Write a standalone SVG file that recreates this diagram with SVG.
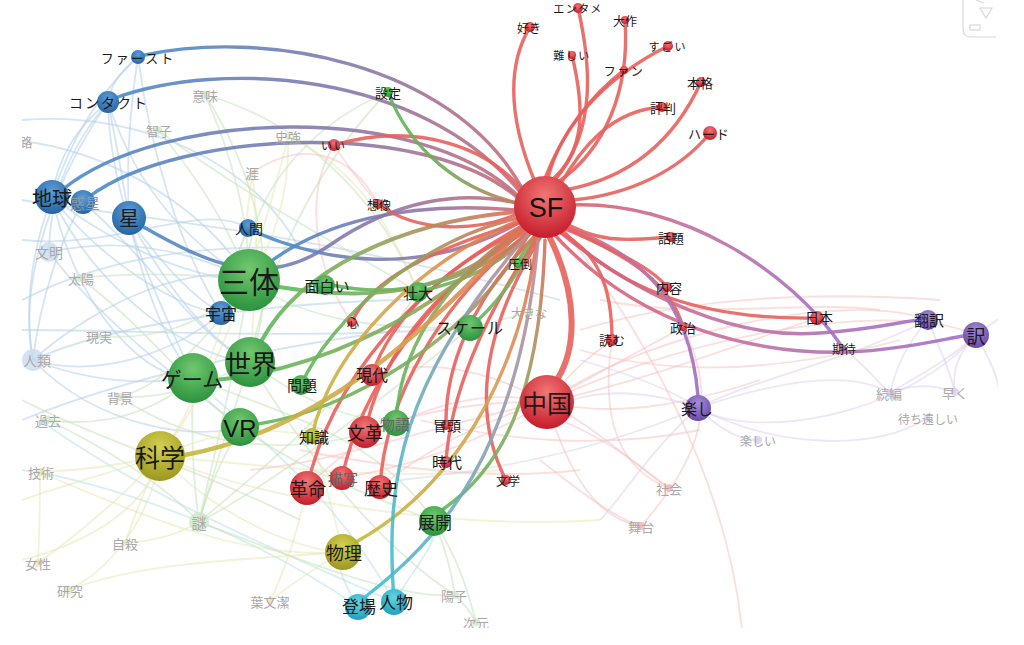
<svg xmlns="http://www.w3.org/2000/svg" width="1024" height="645" viewBox="0 0 1024 645">
<defs>
<style>
.lab{font-family:"Noto Sans CJK JP","Noto Sans CJK SC",sans-serif;fill:#1a1a1a;text-anchor:middle;dominant-baseline:central}
.lat{font-family:"Liberation Sans",Arial,sans-serif;fill:#111;text-anchor:middle;dominant-baseline:central}
.fl{font-family:"Noto Sans CJK JP","Noto Sans CJK SC",sans-serif;fill:#a8a8a8;text-anchor:middle;dominant-baseline:central;font-size:13px}
.gl{fill:#666}
#faint path{fill:none;stroke-width:1.8;opacity:.55}
.fb{stroke:#b3cfe9}.fg{stroke:#c6e2bc}.fo{stroke:#e6e7b4}.fr{stroke:#f7c2c2}.fp{stroke:#dcd2ee}.fc{stroke:#b9e1ea}
#edges path{fill:none;stroke-width:3.4;stroke-linecap:round;opacity:.9}
.r{stroke:#e8605c}
.nr{fill:url(#rR)}.ng{fill:url(#rG)}.nb{fill:url(#rB)}.no{fill:url(#rO)}.np{fill:url(#rP)}.nc{fill:url(#rC)}
.xb{fill:#c9dcef;opacity:.8}.xg{fill:#cfe6c8;opacity:.8}.xo{fill:#e6e6bc;opacity:.8}.xr{fill:#f3b3b3;opacity:.8}.xp{fill:#d8cef0;opacity:.8}
</style>
<radialGradient id="rR" cx="50%" cy="32%" r="68%"><stop offset="0" stop-color="#f27676"/><stop offset="1" stop-color="#c41c2a"/></radialGradient>
<radialGradient id="rG" cx="50%" cy="32%" r="68%"><stop offset="0" stop-color="#70c86e"/><stop offset="1" stop-color="#2c923e"/></radialGradient>
<radialGradient id="rB" cx="50%" cy="32%" r="68%"><stop offset="0" stop-color="#5c9cd6"/><stop offset="1" stop-color="#2464a4"/></radialGradient>
<radialGradient id="rO" cx="50%" cy="32%" r="68%"><stop offset="0" stop-color="#d4d052"/><stop offset="1" stop-color="#9c981e"/></radialGradient>
<radialGradient id="rP" cx="50%" cy="32%" r="68%"><stop offset="0" stop-color="#a68cd8"/><stop offset="1" stop-color="#6848a8"/></radialGradient>
<radialGradient id="rC" cx="50%" cy="32%" r="68%"><stop offset="0" stop-color="#66d4e2"/><stop offset="1" stop-color="#1ea2ba"/></radialGradient>
<linearGradient id="gBR" x1="0" y1="0" x2="1" y2="0"><stop offset="0" stop-color="#4a8ac8"/><stop offset=".6" stop-color="#8a78aa"/><stop offset="1" stop-color="#c86c78"/></linearGradient>
<linearGradient id="gGR" x1="0" y1="0" x2="1" y2="0"><stop offset="0" stop-color="#5cb85c"/><stop offset=".6" stop-color="#8aa860"/><stop offset="1" stop-color="#d0705a"/></linearGradient>
<linearGradient id="gGRd" x1="0" y1="0" x2="1" y2="1"><stop offset="0" stop-color="#5cb85c"/><stop offset=".6" stop-color="#72a858"/><stop offset="1" stop-color="#c08060"/></linearGradient>
<linearGradient id="gGRu" x1="0" y1="1" x2="1" y2="0"><stop offset="0" stop-color="#5cb85c"/><stop offset=".55" stop-color="#8aaa5c"/><stop offset="1" stop-color="#d8705a"/></linearGradient>
<linearGradient id="gORu" x1="0" y1="1" x2="1" y2="0"><stop offset="0" stop-color="#c4b83c"/><stop offset=".6" stop-color="#d8a050"/><stop offset="1" stop-color="#e07058"/></linearGradient>
<linearGradient id="gCRu" x1="0" y1="1" x2="1" y2="0"><stop offset="0" stop-color="#3cc0d0"/><stop offset=".6" stop-color="#8aa0b4"/><stop offset="1" stop-color="#c88890"/></linearGradient>
<linearGradient id="gRP" x1="0" y1="0" x2="1" y2="0"><stop offset="0" stop-color="#e0606a"/><stop offset=".45" stop-color="#c070a0"/><stop offset="1" stop-color="#a070c8"/></linearGradient>
<linearGradient id="gRPd" x1="0" y1="0" x2="1" y2="1"><stop offset="0" stop-color="#e0606a"/><stop offset=".5" stop-color="#b874b0"/><stop offset="1" stop-color="#9a6cc8"/></linearGradient>
<clipPath id="clip"><rect x="22" y="0" width="976" height="628"/></clipPath>
</defs>
<rect width="1024" height="645" fill="#ffffff"/>
<g clip-path="url(#clip)">
<g id="faint">
<path class="fb" d="M138,57 Q110,80 108,102"/>
<path class="fb" d="M138,57 Q125,140 129,218"/>
<path class="fb" d="M138,57 Q80,110 52,197"/>
<path class="fb" d="M138,57 C150,150 180,250 221,313"/>
<path class="fb" d="M108,102 Q120,160 129,218"/>
<path class="fb" d="M108,102 Q60,140 52,197"/>
<path class="fb" d="M108,102 Q50,170 49,252"/>
<path class="fb" d="M108,102 C40,200 20,300 33,360"/>
<path class="fb" d="M108,102 C110,200 150,280 193,378"/>
<path class="fb" d="M108,102 C140,200 200,250 249,280"/>
<path class="fb" d="M52,197 C120,250 200,280 249,280"/>
<path class="fb" d="M52,197 C100,300 200,360 250,362"/>
<path class="fb" d="M52,197 C80,320 150,380 193,378"/>
<path class="fb" d="M129,218 Q150,320 193,378"/>
<path class="fb" d="M129,218 Q190,330 250,362"/>
<path class="fb" d="M129,218 Q180,290 221,313"/>
<path class="fb" d="M49,252 Q150,230 249,280"/>
<path class="fb" d="M33,360 C100,300 200,260 249,280"/>
<path class="fb" d="M33,360 Q110,390 193,378"/>
<path class="fb" d="M33,360 C100,430 200,440 240,427"/>
<path class="fb" d="M52,197 Q20,280 33,360"/>
<path class="fb" d="M52,197 C100,260 180,310 221,313"/>
<path class="fb" d="M22,141 C100,150 200,200 249,280"/>
<path class="fb" d="M22,120 C150,110 260,170 300,250"/>
<path class="fb" d="M22,300 C100,260 200,240 330,250"/>
<path class="fb" d="M22,420 C120,380 250,350 400,330"/>
<path class="fb" d="M83,202 C150,260 200,340 250,362"/>
<path class="fb" d="M248,228 Q230,270 221,313"/>
<path class="fb" d="M221,313 C180,350 100,380 33,360"/>
<path class="fb" d="M49,252 C100,320 180,380 240,427"/>
<path class="fb" d="M33,360 C120,320 300,300 420,300"/>
<path class="fb" d="M22,200 C150,220 300,230 560,300"/>
<path class="fb" d="M22,240 C120,250 200,200 248,228"/>
<path class="fb" d="M83,202 C60,240 40,300 33,360"/>
<path class="fb" d="M22,330 C150,330 300,340 470,328"/>
<path class="fc" d="M358,607 C250,530 100,480 22,470"/>
<path class="fc" d="M394,602 C300,560 150,500 40,420"/>
<path class="fc" d="M358,607 Q330,560 343,552"/>
<path class="fc" d="M394,602 C420,560 440,540 434,521"/>
<path class="fc" d="M394,602 C340,500 260,440 193,378"/>
<path class="fg" d="M249,280 Q160,270 80,278"/>
<path class="fg" d="M249,280 Q180,380 120,397"/>
<path class="fg" d="M250,362 Q180,400 120,397"/>
<path class="fg" d="M193,378 Q190,460 199,522"/>
<path class="fg" d="M249,280 C230,400 210,470 199,522"/>
<path class="fg" d="M250,362 Q220,450 199,522"/>
<path class="fg" d="M240,427 Q210,480 199,522"/>
<path class="fg" d="M205,95 C230,150 250,220 249,280"/>
<path class="fg" d="M205,95 C260,180 280,280 250,362"/>
<path class="fg" d="M158,130 C200,180 230,230 249,280"/>
<path class="fg" d="M158,130 C250,200 350,250 418,292"/>
<path class="fg" d="M388,92 C320,120 260,180 249,250"/>
<path class="fg" d="M388,92 C330,150 270,250 250,362"/>
<path class="fg" d="M455,595 Q470,610 476,622"/>
<path class="fg" d="M434,521 Q450,560 455,595"/>
<path class="fg" d="M434,521 C460,560 470,600 476,622"/>
<path class="fg" d="M250,362 C320,480 400,560 455,595"/>
<path class="fg" d="M199,522 C300,560 400,600 455,595"/>
<path class="fg" d="M48,420 C120,430 170,400 193,378"/>
<path class="fg" d="M48,420 Q150,470 199,522"/>
<path class="fg" d="M97,336 C150,340 200,330 249,280"/>
<path class="fg" d="M249,280 C300,320 380,330 470,328"/>
<path class="fg" d="M193,378 C300,420 380,440 434,521"/>
<path class="fg" d="M240,427 C300,470 380,500 434,521"/>
<path class="fg" d="M80,278 C150,330 200,400 240,427"/>
<path class="fg" d="M22,400 C100,440 200,470 300,520"/>
<path class="fg" d="M120,397 C200,450 300,460 396,423"/>
<path class="fg" d="M250,362 C300,400 350,420 396,423"/>
<path class="fg" d="M530,312 Q500,320 470,328"/>
<path class="fg" d="M199,522 C260,470 330,420 418,292"/>
<path class="fg" d="M199,522 C280,480 380,400 470,328"/>
<path class="fg" d="M205,95 C300,120 380,200 418,292"/>
<path class="fo" d="M160,456 Q100,470 40,472"/>
<path class="fo" d="M160,456 C120,500 70,540 38,563"/>
<path class="fo" d="M160,456 C150,520 110,570 68,590"/>
<path class="fo" d="M160,456 Q140,500 125,543"/>
<path class="fo" d="M160,456 Q240,420 312,436"/>
<path class="fo" d="M160,456 C220,520 300,550 343,552"/>
<path class="fo" d="M40,472 C150,520 250,560 343,552"/>
<path class="fo" d="M288,137 C260,250 220,380 160,456"/>
<path class="fo" d="M252,173 C240,300 200,400 160,456"/>
<path class="fo" d="M252,173 C260,230 255,300 250,362"/>
<path class="fo" d="M288,137 C290,200 270,250 249,280"/>
<path class="fo" d="M270,601 Q310,570 343,552"/>
<path class="fo" d="M270,601 C290,560 300,520 307,488"/>
<path class="fo" d="M125,543 Q170,540 199,522"/>
<path class="fo" d="M22,500 C80,480 120,470 160,456"/>
<path class="fo" d="M38,563 Q40,520 40,472"/>
<path class="fo" d="M68,590 C150,560 250,560 343,552"/>
<path class="fo" d="M22,560 C100,540 150,500 160,456"/>
<path class="fo" d="M312,436 Q330,500 343,552"/>
<path class="fo" d="M160,456 C300,470 400,480 500,470"/>
<path class="fo" d="M160,456 C260,500 450,530 600,520"/>
<path class="fo" d="M288,137 C340,160 380,200 418,292"/>
<path class="fr" d="M547,402 C600,430 640,470 669,488"/>
<path class="fr" d="M547,402 C570,480 600,520 641,526"/>
<path class="fr" d="M545,207 C640,320 730,480 743,640"/>
<path class="fr" d="M547,402 C650,330 850,290 928,320"/>
<path class="fr" d="M547,402 C700,330 900,300 976,335"/>
<path class="fr" d="M547,402 C450,380 350,440 307,488"/>
<path class="fr" d="M547,402 Q450,430 380,487"/>
<path class="fr" d="M547,402 Q450,460 342,478"/>
<path class="fr" d="M547,402 Q450,400 365,432"/>
<path class="fr" d="M547,402 Q450,350 372,375"/>
<path class="fr" d="M547,402 C620,360 680,330 683,327"/>
<path class="fr" d="M547,402 C580,360 600,350 612,340"/>
<path class="fr" d="M547,402 C650,380 750,340 817,318"/>
<path class="fr" d="M547,402 C450,420 350,460 250,470"/>
<path class="fr" d="M547,402 C620,420 700,400 760,380"/>
<path class="fr" d="M334,145 Q350,170 378,204"/>
<path class="fr" d="M334,145 C300,200 320,280 352,322"/>
<path class="fr" d="M252,173 C300,140 350,150 378,204"/>
<path class="fr" d="M560,420 C610,440 645,470 669,488"/>
<path class="fr" d="M540,460 C590,500 620,520 641,526"/>
<path class="fr" d="M580,350 C650,370 750,380 900,340"/>
<path class="fr" d="M600,300 C700,320 800,300 880,310"/>
<path class="fr" d="M420,420 C500,440 600,450 700,430"/>
<path class="fr" d="M300,450 C400,470 500,480 580,470"/>
<path class="fr" d="M580,330 C680,300 800,290 940,300"/>
<path class="fr" d="M612,340 C600,420 620,470 669,488"/>
<path class="fr" d="M683,327 C720,400 700,460 641,526"/>
<path class="fp" d="M698,408 Q730,440 758,440"/>
<path class="fp" d="M698,408 C780,380 850,370 890,393"/>
<path class="fp" d="M698,408 C780,450 880,450 927,418"/>
<path class="fp" d="M976,335 C950,360 910,380 890,393"/>
<path class="fp" d="M976,335 Q950,360 955,392"/>
<path class="fp" d="M928,320 Q900,350 890,393"/>
<path class="fp" d="M928,320 C850,360 750,380 698,408"/>
<path class="fp" d="M976,335 C900,420 750,440 698,408"/>
<path class="fp" d="M698,408 C650,390 600,390 573,400"/>
<path class="fp" d="M698,408 C600,450 500,470 400,480"/>
<path class="fp" d="M890,393 Q920,380 955,392"/>
<path class="fp" d="M976,335 Q990,325 1000,318"/>
<path class="fp" d="M698,408 C650,450 620,500 600,520"/>
<path class="fp" d="M580,360 C650,380 680,395 698,408"/>
<path class="fp" d="M843,348 C870,370 880,385 890,393"/>
<path class="fp" d="M928,320 C940,350 950,370 955,392"/>
<path class="fp" d="M976,335 C990,360 1000,380 1000,400"/>
</g>
<g id="edges">
<path stroke="url(#gBR)" d="M145,55 C260,30 450,60 522,188"/>
<path stroke="url(#gBR)" d="M115,98 C220,60 420,70 520,192"/>
<path stroke="url(#gBR)" d="M62,190 C160,110 420,100 518,196"/>
<path stroke="url(#gBR)" d="M90,196 C180,130 430,118 520,200"/>
<path stroke="url(#gBR)" d="M140,225 C210,265 265,290 330,245 S460,190 516,203"/>
<path stroke="url(#gBR)" d="M255,232 C320,260 420,280 520,222"/>
<path stroke="url(#gBR)" d="M270,262 C320,225 400,200 516,210"/>
<path class="r" d="M535,182 C505,110 510,60 530,27"/>
<path class="r" d="M578,8 C590,60 598,130 555,180"/>
<path class="r" d="M625,20 C630,90 605,150 558,182"/>
<path class="r" d="M572,55 C585,110 585,150 552,180"/>
<path class="r" d="M668,46 C600,80 560,130 548,178"/>
<path class="r" d="M624,70 C585,100 560,140 545,178"/>
<path class="r" d="M701,82 C670,150 620,180 565,190"/>
<path class="r" d="M662,107 C610,110 580,150 560,185"/>
<path class="r" d="M710,133 C680,170 630,195 572,200" stroke-width="4"/>
<path class="r" d="M334,145 C420,120 490,150 522,190"/>
<path class="r" d="M378,204 C420,235 480,230 515,215"/>
<path class="r" d="M560,220 C600,245 630,240 671,237"/>
<path class="r" d="M555,225 C620,250 670,280 683,327"/>
<path class="r" d="M555,222 C610,250 650,265 667,287"/>
<path class="r" d="M555,230 C600,250 612,290 612,340"/>
<path class="r" d="M560,228 C620,290 700,320 817,318"/>
<path class="r" d="M550,238 C580,300 575,350 558,378" style="stroke-width:6"/>
<path class="r" d="M528,228 C450,260 390,320 372,375"/>
<path class="r" d="M522,222 C430,250 370,280 352,322"/>
<path class="r" d="M528,230 C430,290 380,360 365,432"/>
<path class="r" d="M524,225 C420,280 330,380 307,488"/>
<path class="r" d="M526,228 C430,290 360,390 342,478"/>
<path class="r" d="M530,232 C440,300 385,400 380,487"/>
<path class="r" d="M535,236 C470,300 445,370 446,425"/>
<path class="r" d="M538,237 C480,320 450,400 446,462"/>
<path class="r" d="M540,238 C470,350 480,430 506,480"/>
<path stroke="url(#gGR)" d="M279,287 C360,300 450,300 524,228" style="stroke-width:4"/>
<path stroke="url(#gGR)" d="M332,285 C400,300 480,280 528,232"/>
<path stroke="url(#gGR)" d="M425,290 C470,280 505,260 530,234"/>
<path stroke="url(#gGRu)" d="M478,320 C510,290 525,260 535,237"/>
<path stroke="url(#gGRu)" d="M520,258 Q528,245 535,236"/>
<path stroke="url(#gGRd)" d="M388,92 C410,150 460,190 518,203"/>
<path stroke="url(#gGRu)" d="M262,340 C300,270 400,222 516,212" style="stroke-width:4"/>
<path stroke="url(#gGRu)" d="M215,380 C300,372 420,330 522,226" style="stroke-width:4"/>
<path stroke="url(#gGRu)" d="M301,385 C330,320 420,240 518,218"/>
<path stroke="url(#gGRu)" d="M258,424 C350,410 470,340 530,232"/>
<path stroke="url(#gGRu)" d="M396,423 C400,330 470,260 525,228"/>
<path stroke="url(#gGRu)" d="M442,510 C500,470 540,400 545,240"/>
<path stroke="url(#gORu)" d="M185,455 C320,430 430,330 522,228" style="stroke-width:4.5"/>
<path stroke="url(#gORu)" d="M356,542 C450,490 520,380 537,238"/>
<path stroke="url(#gORu)" d="M312,436 C330,350 420,260 520,220"/>
<path stroke="url(#gCRu)" d="M394,600 C385,480 400,380 530,232"/>
<path stroke="url(#gCRu)" d="M365,597 C440,540 520,450 538,240"/>
<path stroke="url(#gRP)" d="M570,205 C680,200 790,270 843,348"/>
<path stroke="url(#gRP)" d="M555,228 C640,300 740,340 820,333 C870,330 900,322 918,320"/>
<path stroke="url(#gRP)" d="M552,232 C640,330 760,355 850,352 C900,350 940,340 963,336"/>
<path stroke="url(#gRPd)" d="M556,224 C640,250 690,300 698,396"/>
</g>
<g id="n-roro"><text class="fl" x="26" y="141">路</text></g>
<g id="n-imi"><circle class="xg" cx="205" cy="95" r="4"/><text class="fl" x="205" y="95">意味</text></g>
<g id="n-tomoko"><circle class="xg" cx="158" cy="130" r="4"/><text class="fl" x="159" y="130">智子</text></g>
<g id="n-shikyo"><circle class="xo" cx="288" cy="137" r="3"/><text class="fl" x="288" y="136">史強</text></g>
<g id="n-gai"><circle class="xo" cx="252" cy="173" r="3"/><text class="fl" x="252" y="173" style="font-size:14px">涯</text></g>
<g id="n-bunmei"><circle class="xb" cx="49" cy="252" r="10"/><text class="fl" x="49" y="252" style="font-size:14px">文明</text></g>
<g id="n-taiyo"><circle class="xg" cx="80" cy="278" r="4"/><text class="fl" x="81" y="278">太陽</text></g>
<g id="n-genjitsu"><circle class="xg" cx="97" cy="336" r="3"/><text class="fl" x="99" y="336">現実</text></g>
<g id="n-jinrui"><circle class="xb" cx="33" cy="360" r="11"/><text class="fl" x="37" y="360" style="font-size:14px">人類</text></g>
<g id="n-haikei"><circle class="xg" cx="120" cy="397" r="4"/><text class="fl" x="120" y="397">背景</text></g>
<g id="n-kako"><circle class="xg" cx="48" cy="420" r="4"/><text class="fl" x="48" y="420">過去</text></g>
<g id="n-gijutsu"><circle class="xo" cx="40" cy="472" r="4"/><text class="fl" x="41" y="472">技術</text></g>
<g id="n-nazo"><circle class="xg" cx="199" cy="522" r="10"/><text class="fl" x="199" y="522" style="font-size:15px">謎</text></g>
<g id="n-jisatsu"><circle class="xo" cx="125" cy="543" r="3"/><text class="fl" x="125" y="543">自殺</text></g>
<g id="n-josei"><circle class="xo" cx="38" cy="563" r="4"/><text class="fl" x="38" y="563">女性</text></g>
<g id="n-kenkyu"><circle class="xo" cx="68" cy="590" r="4"/><text class="fl" x="70" y="590">研究</text></g>
<g id="n-youbunketsu"><circle class="xo" cx="270" cy="601" r="3"/><text class="fl" x="270" y="601">葉文潔</text></g>
<g id="n-youko"><circle class="xg" cx="455" cy="595" r="4"/><text class="fl" x="454" y="595">陽子</text></g>
<g id="n-jigen"><circle class="xg" cx="476" cy="622" r="4"/><text class="fl" x="476" y="622">次元</text></g>
<g id="n-ookina"><circle class="xg" cx="530" cy="312" r="3"/><text class="fl" x="529" y="312" style="font-size:12px">大きな</text></g>
<g id="n-tanoshii"><circle class="xp" cx="758" cy="440" r="4"/><text class="fl" x="758" y="440" style="font-size:12px">楽しい</text></g>
<g id="n-zokuhen"><circle class="xp" cx="890" cy="393" r="4"/><text class="fl" x="889" y="393">続編</text></g>
<g id="n-hayaku"><circle class="xp" cx="955" cy="392" r="4"/><text class="fl" x="955" y="392">早く</text></g>
<g id="n-machidooshii"><circle class="xp" cx="927" cy="418" r="3"/><text class="fl" x="928" y="418" style="font-size:12px">待ち遠しい</text></g>
<g id="n-shakai"><circle class="xr" cx="669" cy="488" r="4"/><text class="fl" x="669" y="488">社会</text></g>
<g id="n-butai"><circle class="xr" cx="641" cy="526" r="4"/><text class="fl" x="641" y="526">舞台</text></g>
<g id="n-wakusei"><circle class="nb" cx="83" cy="202" r="12"/><text class="fl" x="85" y="202" style="font-size:15px;fill:#8a9aaa">惑星</text></g>
<g id="n-first"><circle class="nb" cx="138" cy="57" r="7"/><text class="lab" x="138" y="57" style="font-size:13px;letter-spacing:2px">ファースト</text></g>
<g id="n-contact"><circle class="nb" cx="108" cy="102" r="11"/><text class="lab" x="109" y="102" style="font-size:14px;letter-spacing:2px">コンタクト</text></g>
<g id="n-chikyu"><circle class="nb" cx="52" cy="197" r="17"/><text class="lab" x="52" y="197" style="font-size:20px">地球</text></g>
<g id="n-hoshi"><circle class="nb" cx="129" cy="218" r="17"/><text class="lab" x="129" y="217" style="font-size:20px">星</text></g>
<g id="n-ningen"><circle class="nb" cx="248" cy="228" r="9"/><text class="lab" x="249" y="228" style="font-size:14px">人間</text></g>
<g id="n-uchu"><circle class="nb" cx="221" cy="313" r="12"/><text class="lab" x="221" y="313" style="font-size:16px">宇宙</text></g>
<g id="n-santai"><circle class="ng" cx="249" cy="280" r="31"/><text class="lab" x="249" y="280" style="font-size:30px">三体</text></g>
<g id="n-sekai"><circle class="ng" cx="250" cy="362" r="25"/><text class="lab" x="251" y="362" style="font-size:26px">世界</text></g>
<g id="n-game"><circle class="ng" cx="193" cy="378" r="25"/><text class="lab" x="192" y="378" style="font-size:21px">ゲーム</text></g>
<g id="n-vr"><circle class="ng" cx="240" cy="427" r="19"/><text class="lat" x="240" y="428" style="font-size:24px">VR</text></g>
<g id="n-kagaku"><circle class="no" cx="160" cy="456" r="25"/><text class="lab" x="160" y="456" style="font-size:25px">科学</text></g>
<g id="n-butsuri"><circle class="no" cx="343" cy="552" r="18"/><text class="lab" x="344" y="552" style="font-size:18px">物理</text></g>
<g id="n-chishiki"><circle class="no" cx="312" cy="436" r="8"/><text class="lab" x="314" y="436" style="font-size:15px">知識</text></g>
<g id="n-omoshiroi"><circle class="ng" cx="325" cy="285" r="10"/><text class="lab" x="327" y="285" style="font-size:15px">面白い</text></g>
<g id="n-sodai"><circle class="ng" cx="418" cy="292" r="10"/><text class="lab" x="418" y="292" style="font-size:15px">壮大</text></g>
<g id="n-scale"><circle class="ng" cx="470" cy="328" r="13"/><text class="lab" x="470" y="327" style="font-size:16px;letter-spacing:1px">スケール</text></g>
<g id="n-atto"><circle class="ng" cx="518" cy="263" r="5"/><text class="lab" x="520" y="263" style="font-size:12px">圧倒</text></g>
<g id="n-mondai"><circle class="ng" cx="301" cy="385" r="10"/><text class="lab" x="302" y="384" style="font-size:15px">問題</text></g>
<g id="n-monogatari"><circle class="ng" cx="396" cy="423" r="13"/><text class="lab gl" x="395" y="423" style="font-size:15px">物語</text></g>
<g id="n-tenkai"><circle class="ng" cx="434" cy="521" r="15"/><text class="lab" x="435" y="521" style="font-size:17px">展開</text></g>
<g id="n-settei"><circle class="ng" cx="388" cy="92" r="5"/><text class="lab" x="388" y="92" style="font-size:13px">設定</text></g>
<g id="n-tojo"><circle class="nc" cx="358" cy="607" r="13"/><text class="lab" x="359" y="605" style="font-size:17px">登場</text></g>
<g id="n-jinbutsu"><circle class="nc" cx="394" cy="602" r="13"/><text class="lab" x="396" y="601" style="font-size:17px">人物</text></g>
<g id="n-kakumei"><circle class="nr" cx="307" cy="488" r="17"/><text class="lab" x="308" y="488" style="font-size:18px">革命</text></g>
<g id="n-byosha"><circle class="nr" cx="342" cy="478" r="12"/><text class="lab gl" x="343" y="478" style="font-size:15px">描写</text></g>
<g id="n-rekishi"><circle class="nr" cx="380" cy="487" r="12"/><text class="lab" x="381" y="487" style="font-size:17px">歴史</text></g>
<g id="n-bunkaku"><circle class="nr" cx="365" cy="432" r="16"/><text class="lab" x="365" y="432" style="font-size:18px">文革</text></g>
<g id="n-gendai"><circle class="nr" cx="372" cy="375" r="11"/><text class="lab" x="372" y="374" style="font-size:16px">現代</text></g>
<g id="n-kokoro"><circle class="nr" cx="352" cy="322" r="5"/><text class="lab" x="353" y="322" style="font-size:12px">心</text></g>
<g id="n-bouto"><circle class="nr" cx="446" cy="425" r="5"/><text class="lab" x="447" y="425" style="font-size:14px">冒頭</text></g>
<g id="n-jidai"><circle class="nr" cx="446" cy="462" r="6"/><text class="lab" x="447" y="461" style="font-size:15px">時代</text></g>
<g id="n-bungaku"><circle class="nr" cx="506" cy="480" r="5"/><text class="lab" x="508" y="480" style="font-size:12px">文学</text></g>
<g id="n-sozo"><circle class="nr" cx="378" cy="204" r="5"/><text class="lab" x="379" y="204" style="font-size:12px">想像</text></g>
<g id="n-ii"><circle class="nr" cx="334" cy="145" r="6"/><text class="lab" x="334" y="145" style="font-size:11px;letter-spacing:2px">いい</text></g>
<g id="n-suki"><circle class="nr" cx="530" cy="27" r="5"/><text class="lab" x="529" y="27" style="font-size:12px">好き</text></g>
<g id="n-entame"><circle class="nr" cx="578" cy="8" r="5"/><text class="lab" x="578" y="8" style="font-size:11px;letter-spacing:1.5px">エンタメ</text></g>
<g id="n-taisaku"><circle class="nr" cx="625" cy="20" r="4"/><text class="lab" x="625" y="20" style="font-size:12px">大作</text></g>
<g id="n-muzukashii"><circle class="nr" cx="572" cy="55" r="4"/><text class="lab" x="572" y="55" style="font-size:11px;letter-spacing:1.5px">難しい</text></g>
<g id="n-sugoi"><circle class="nr" cx="668" cy="46" r="5"/><text class="lab" x="668" y="46" style="font-size:11px;letter-spacing:2px">すごい</text></g>
<g id="n-fan"><circle class="nr" cx="624" cy="70" r="4"/><text class="lab" x="624" y="70" style="font-size:12px;letter-spacing:1.5px">ファン</text></g>
<g id="n-honkaku"><circle class="nr" cx="701" cy="82" r="5"/><text class="lab" x="700" y="82" style="font-size:13px">本格</text></g>
<g id="n-hyoban"><circle class="nr" cx="662" cy="107" r="5"/><text class="lab" x="663" y="107" style="font-size:13px">評判</text></g>
<g id="n-hard"><circle class="nr" cx="710" cy="133" r="7"/><text class="lab" x="709" y="133" style="font-size:13px;letter-spacing:1px">ハード</text></g>
<g id="n-wadai"><circle class="nr" cx="671" cy="237" r="5"/><text class="lab" x="671" y="237" style="font-size:13px">話題</text></g>
<g id="n-naiyo"><circle class="nr" cx="667" cy="287" r="5"/><text class="lab" x="669" y="287" style="font-size:13px">内容</text></g>
<g id="n-seiji"><circle class="nr" cx="683" cy="327" r="4"/><text class="lab" x="683" y="327" style="font-size:13px">政治</text></g>
<g id="n-yomu"><circle class="nr" cx="612" cy="340" r="6"/><text class="lab" x="612" y="339" style="font-size:13px">読む</text></g>
<g id="n-nihon"><circle class="nr" cx="817" cy="318" r="7"/><text class="lab" x="819" y="317" style="font-size:14px">日本</text></g>
<g id="n-honyaku"><circle class="np" cx="928" cy="320" r="10"/><text class="lab" x="929" y="319" style="font-size:15px">翻訳</text></g>
<g id="n-yaku"><circle class="np" cx="976" cy="335" r="13"/><text class="lab" x="976" y="335" style="font-size:19px">訳</text></g>
<g id="n-kitai"><circle class="np" cx="843" cy="348" r="3"/><text class="lab" x="844" y="348" style="font-size:12px">期待</text></g>
<g id="n-tanoshi"><circle class="np" cx="698" cy="408" r="13"/><text class="lab" x="697" y="408" style="font-size:16px">楽し</text></g>
<g id="n-chugoku"><circle class="nr" cx="547" cy="402" r="27"/><text class="lab" x="547" y="402" style="font-size:25px">中国</text></g>
<g id="n-sf"><circle class="nr" cx="545" cy="207" r="31"/><text class="lat" x="546" y="208" style="font-size:27px">SF</text></g>
</g>
<g id="widget" fill="none" stroke="#d8d8d8" stroke-width="1.2">
<path d="M963,0 V29 Q963,37 971,37 H996"/>
<path d="M980,8 H992 L986,18 Z"/>
<rect x="970" y="25" width="10" height="5"/>
<path d="M976,0 L984,3"/>
</g>
</svg>
